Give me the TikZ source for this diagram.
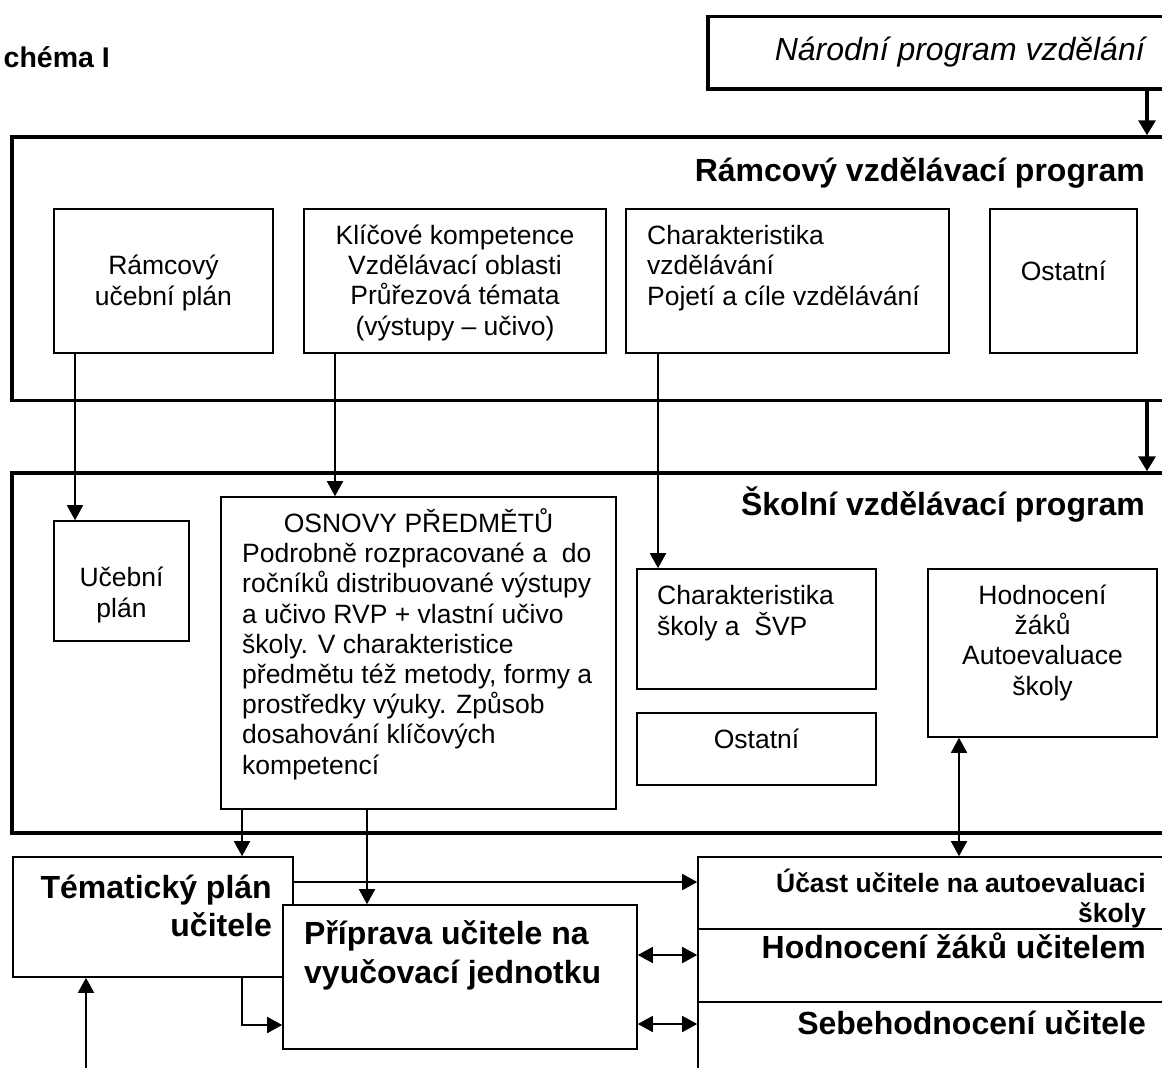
\documentclass[tikz,border=0pt]{standalone}
\usepackage{fontspec}
\setmainfont{Liberation Sans}
\usetikzlibrary{arrows.meta,fit}
\newcommand\mynormal{\fontsize{26.5}{30.2}\selectfont}
\newcommand\mysmallbold{\bfseries\fontsize{26.5}{29.5}\selectfont}
\newcommand\mytitle{\bfseries\fontsize{32}{38}\selectfont}
\begin{document}
\begin{tikzpicture}[x=1pt,y=-1pt,
  thickbox/.style={draw, line width=3.5pt, inner sep=0pt},
  thinbox/.style={draw, line width=1.6pt, inner sep=0pt, fill=white},
  txt/.style={inner sep=0pt, font=\mynormal},
  ttl/.style={inner sep=0pt, font=\mytitle},
  conn/.style={line width=1.6pt, -{Triangle[width=16pt,length=15pt]}},
  dconn/.style={line width=1.6pt, {Triangle[width=16pt,length=15pt]}-{Triangle[width=16pt,length=15pt]}},
  thickconn/.style={line width=3.2pt, -{Triangle[width=17pt,length=15pt]}}]
\useasboundingbox (0,0) rectangle (1162,1068);
\clip (0,0) rectangle (1162,1068);

% helper coordinates
\coordinate (xT) at (1147,0);
\coordinate (xA) at (75,0);
\coordinate (xB) at (335,0);
\coordinate (xC) at (658,0);
\coordinate (xD) at (242,0);
\coordinate (xE) at (367,0);
\coordinate (xF) at (959,0);
\coordinate (yA) at (0,882);
\coordinate (yB) at (0,1025);
\coordinate (yC) at (0,955);
\coordinate (yD) at (0,1024);
\coordinate (bot) at (86,1080);

% title
\node[inner sep=0pt, anchor=base east, font=\bfseries\fontsize{28.5}{34}\selectfont] (schema) at (110,67) {chéma I};

% national programme
\node[thickbox, fit={(708,16.5) (1190,89)}] (npv) {};
\node[inner sep=0pt, anchor=base east, font=\itshape\fontsize{32}{38}\selectfont] (npvt) at (1145,60) {Národní program vzdělání};

% RVP
\node[thickbox, fit={(12,137) (1190,400.5)}] (rvp) {};
\node[ttl, anchor=base east] (rvpt) at (1145,181) {Rámcový vzdělávací program};
\node[thinbox, fit={(54,209) (273,353)}] (rup) {};
\node[txt, align=center, anchor=base] (rupt) at (163.5,305) {Rámcový\\učební plán};
\node[thinbox, fit={(304,209) (606,353)}] (kk) {};
\node[txt, align=center, anchor=base] (kkt) at (455,335) {Klíčové kompetence\\Vzdělávací oblasti\\Průřezová témata\\(výstupy – učivo)};
\node[thinbox, fit={(626,209) (949,353)}] (chv) {};
\node[txt, align=left, anchor=base west] (chvt) at (647,305) {Charakteristika\\vzdělávání\\Pojetí a cíle vzdělávání};
\node[thinbox, fit={(990,209) (1137,353)}] (ost1) {};
\node[txt, anchor=base] (ost1t) at (1063.5,280) {Ostatní};

% SVP
\node[thickbox, fit={(12,473) (1190,833)}] (svp) {};
\node[ttl, anchor=base east] (svpt) at (1145,515) {Školní vzdělávací program};
\node[thinbox, fit={(54,521) (189,641)}] (up) {};
\node[txt, align=center, anchor=base] (upt) at (121.5,617) {Učební\\plán};
\node[thinbox, fit={(221,497) (616,809)}] (osn) {};
\node[txt, anchor=base] (osnh) at (418.5,532) {OSNOVY PŘEDMĚTŮ};
\node[txt, align=left, anchor=base west] (osnt) at (242,774) {Podrobně rozpracované a\ \ do\\ročníků distribuované výstupy\\a učivo RVP + vlastní učivo\\školy. V charakteristice\\předmětu též metody, formy a\\prostředky výuky. Způsob\\dosahování klíčových\\kompetencí};
\node[thinbox, fit={(637,569) (876,689)}] (chs) {};
\node[txt, align=left, anchor=base west] (chst) at (657,635) {Charakteristika\\školy a\ \ ŠVP};
\node[thinbox, fit={(637,713) (876,785)}] (ost2) {};
\node[txt, anchor=base] (ost2t) at (756.5,748) {Ostatní};
\node[thinbox, fit={(928,569) (1157,737)}] (hod) {};
\node[txt, align=center, anchor=base] (hodt) at (1042.5,695) {Hodnocení\\žáků\\Autoevaluace\\školy};

% bottom part
\node[thinbox, fit={(12.7,857) (293,977)}] (tem) {};
\node[ttl, align=right, anchor=base east] (temt) at (272,936) {Tématický plán\\učitele};
\node[thinbox, fit={(698,857) (1190,929)}] (ucast) {};
\node[inner sep=0pt, font=\mysmallbold, align=right, anchor=base east] (ucastt) at (1146,922) {Účast učitele na autoevaluaci\\školy};
\node[thinbox, fit={(698,929) (1190,1002)}] (hz) {};
\node[ttl, anchor=base east] (hzt) at (1146,958) {Hodnocení žáků učitelem};
\node[thinbox, fit={(698,1002) (1190,1090)}] (seb) {};
\node[ttl, anchor=base east] (sebt) at (1146,1034) {Sebehodnocení učitele};

% connectors
\draw[thickconn] (npv.south -| xT) -- (rvp.north -| xT);
\draw[thickconn] (rvp.south -| xT) -- (svp.north -| xT);
\draw[conn] (rup.south -| xA) -- (up.north -| xA);
\draw[conn] (kk.south -| xB) -- (osn.north -| xB);
\draw[conn] (chv.south -| xC) -- (chs.north -| xC);
\draw[conn] (osn.south -| xD) -- (tem.north -| xD);
\draw[conn] (tem.east |- yA) -- (ucast.west |- yA);
\draw[dconn] (hod.south -| xF) -- (ucast.north -| xF);
\draw[conn] (bot) -- (tem.south -| bot);

% preparation box (over the thematic plan)
\node[thinbox, fit={(283,905) (637,1049)}] (pri) {};
\node[inner sep=0pt, font=\bfseries\fontsize{32}{39}\selectfont, align=left, anchor=base west] (prit) at (304,983) {Příprava učitele na\\vyučovací jednotku};
\draw[conn] (osn.south -| xE) -- (pri.north -| xE);
\draw[conn] (tem.south -| xD) |- (pri.west |- yB);
\draw[dconn] (pri.east |- yC) -- (hz.west |- yC);
\draw[dconn] (pri.east |- yD) -- (seb.west |- yD);
\end{tikzpicture}
\end{document}
